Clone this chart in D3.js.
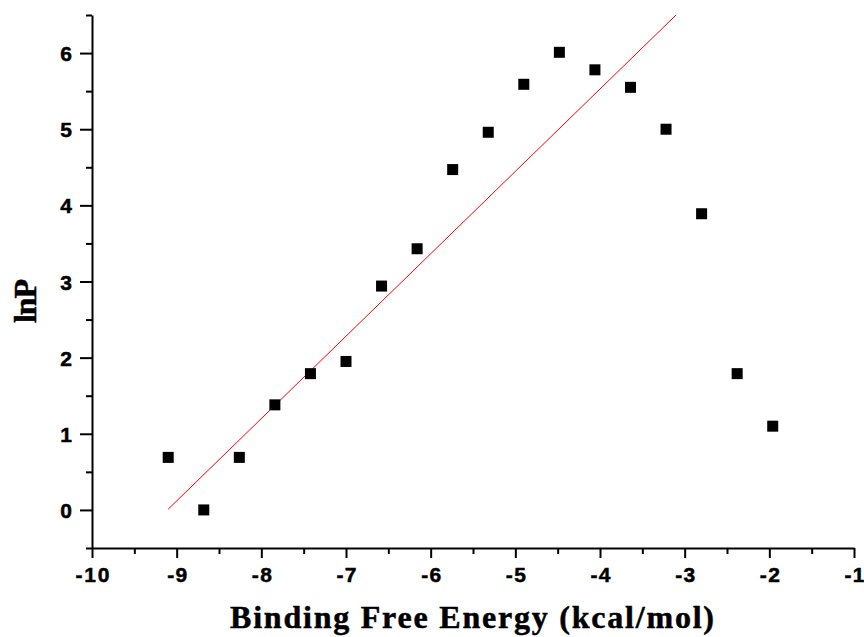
<!DOCTYPE html>
<html>
<head>
<meta charset="utf-8">
<script src="https://cdn.jsdelivr.net/npm/d3@7"></script>
<style>
  body { margin: 0; background: #fff; }
</style>
</head>
<body>
<div id="chart"></div>
<script>
// binding free energy (kcal/mol)
var energy = [-9.10, -8.68, -8.26, -7.84, -7.42, -7.00, -6.58, -6.16, -5.74,
              -5.32, -4.90, -4.48, -4.06, -3.64, -3.22, -2.80, -2.38, -1.96];
// lnP
var lnP = [0.69, 0.00, 0.69, 1.38, 1.79, 1.95, 2.94, 3.43, 4.47,
           4.96, 5.59, 6.01, 5.78, 5.55, 5.00, 3.89, 1.79, 1.10];
// linear fit lnP = slope * energy + intercept
var fitSlope = 1.082;
var fitIntercept = 9.856;

var xMajor = [-10, -9, -8, -7, -6, -5, -4, -3, -2, -1];
var xMinor = [-9.5, -8.5, -7.5, -6.5, -5.5, -4.5, -3.5, -2.5, -1.5];
var yMajor = [0, 1, 2, 3, 4, 5, 6];
var yMinor = [-0.5, 0.5, 1.5, 2.5, 3.5, 4.5, 5.5, 6.5];

var W = 864, H = 637;
var margin = {top: 15, right: 10, bottom: 89, left: 92};
var width = W - margin.left - margin.right;
var height = H - margin.top - margin.bottom;

var svg = d3.select("#chart").append("svg")
    .attr("width", W)
    .attr("height", H);

var g = svg.append("g")
    .attr("transform", "translate(" + margin.left + "," + margin.top + ")");

var x = d3.scaleLinear().domain([-10, -1]).range([0, width]);
var y = d3.scaleLinear().domain([-0.5, 6.5]).range([height, 0]);

svg.append("defs").append("clipPath").attr("id", "plotclip")
    .append("rect").attr("width", width).attr("height", height);

// minor ticks
g.append("g")
    .attr("transform", "translate(0," + height + ")")
    .call(d3.axisBottom(x).tickValues(xMinor).tickSize(6).tickFormat(""))
    .call(function (a) { a.select(".domain").remove(); });
g.append("g")
    .call(d3.axisLeft(y).tickValues(yMinor).tickSize(6).tickFormat(""))
    .call(function (a) { a.select(".domain").remove(); });

// major ticks + axis lines
var xAxis = g.append("g")
    .attr("transform", "translate(0," + height + ")")
    .call(d3.axisBottom(x).tickValues(xMajor).tickSize(10).tickSizeOuter(0)
        .tickFormat(function (d) { return d; }));
var yAxis = g.append("g")
    .call(d3.axisLeft(y).tickValues(yMajor).tickSize(12).tickSizeOuter(0).tickPadding(8)
        .tickFormat(function (d) { return d; }));

g.selectAll(".domain, .tick line")
    .attr("stroke", "#000")
    .attr("stroke-width", 2);

g.selectAll(".tick text")
    .attr("fill", "#000")
    .attr("stroke", "#000")
    .attr("stroke-width", 0.5)
    .style("font-family", "'Liberation Sans', Arial, sans-serif")
    .style("font-size", "21px")
    .style("font-weight", "bold");
xAxis.selectAll(".tick text").attr("y", 34).attr("dy", null)
    .attr("textLength", function (d) { return String(d).length > 2 ? 34 : 20; })
    .attr("lengthAdjust", "spacing");
yAxis.selectAll(".tick text").attr("dy", "0.36em");

// fit line
var xFit = d3.extent(energy);
g.append("path")
    .datum(xFit)
    .attr("clip-path", "url(#plotclip)")
    .attr("fill", "none")
    .attr("stroke", "#ff0000")
    .attr("stroke-width", 1)
    .attr("d", d3.line()
        .x(function (d) { return x(d); })
        .y(function (d) { return y(fitSlope * d + fitIntercept); }));

// data points
var sz = 11;
g.selectAll("rect.pt")
    .data(energy)
    .enter().append("rect")
    .attr("class", "pt")
    .attr("x", function (d) { return x(d) - sz / 2; })
    .attr("y", function (d, i) { return y(lnP[i]) - sz / 2; })
    .attr("width", sz)
    .attr("height", sz)
    .attr("fill", "#000");

// axis titles
svg.append("text")
    .attr("x", 472)
    .attr("y", 628)
    .attr("text-anchor", "middle")
    .attr("stroke", "#000")
    .attr("stroke-width", 0.5)
    .style("font-family", "'Liberation Serif', 'Times New Roman', serif")
    .style("font-weight", "bold")
    .style("font-size", "32px")
    .attr("textLength", 484)
    .attr("lengthAdjust", "spacing")
    .text("Binding Free Energy (kcal/mol)");

svg.append("text")
    .attr("transform", "translate(36,301) rotate(-90)")
    .attr("text-anchor", "middle")
    .attr("stroke", "#000")
    .attr("stroke-width", 0.5)
    .style("font-family", "'Liberation Serif', 'Times New Roman', serif")
    .style("font-weight", "bold")
    .style("font-size", "32px")
    .attr("textLength", 44)
    .attr("lengthAdjust", "spacing")
    .text("lnP");
</script>
</body>
</html>
